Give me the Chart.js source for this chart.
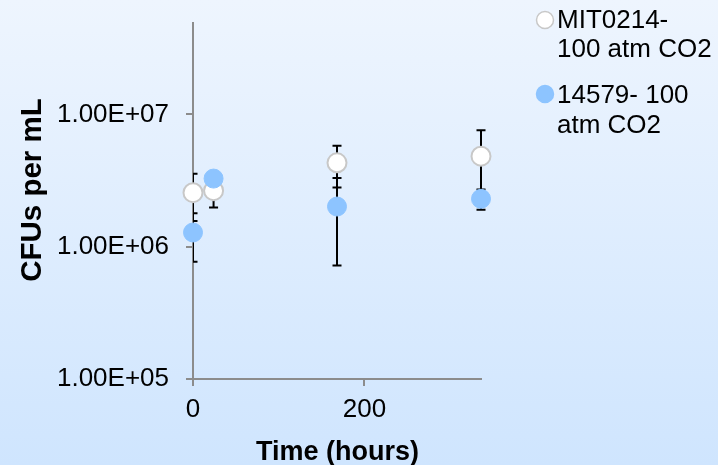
<!DOCTYPE html>
<html>
<head>
<meta charset="utf-8">
<script src="https://cdn.jsdelivr.net/npm/chart.js@4"></script>
<style>
html,body{margin:0;padding:0;}
body{width:718px;height:465px;background:linear-gradient(to bottom,#eef5fe 0%,#cfe5fe 100%);overflow:hidden;}
canvas{display:block;}
</style>
</head>
<body>
<canvas id="c" width="718" height="465"></canvas>
<script>
// ---- data ----
const times = [0, 24, 168, 336];
const mitValues = [2.56e6, 2.65e6, 4.3e6, 4.83e6];
const mitErrors = [1.0e6, 0.67e6, 1.5e6, 2.74e6];
const atccValues = [1.28e6, 3.27e6, 2.01e6, 2.3e6];
const atccErrors = [0.51e6, 0.2e6, 1.29e6, 0.4e6];
const xTicks = [0, 200];
const yTicks = [1e5, 1e6, 1e7];
const seriesNames = [["MIT0214-", "100 atm CO2"], ["14579- 100", "atm CO2"]];
const xTitle = "Time (hours)";
const yTitle = "CFUs per mL";

const FONT = '"Liberation Sans", Arial, sans-serif';
const AXIS = '#8c8c8c';

function fmtE(v){
  const e = Math.round(Math.log10(v));
  const m = v / Math.pow(10, e);
  return m.toFixed(2) + 'E' + (e >= 0 ? '+' : '-') + String(Math.abs(e)).padStart(2, '0');
}

const errorBars = {
  id: 'errorBars',
  beforeDatasetsDraw(chart){
    const {ctx, chartArea, scales:{x, y}} = chart;
    ctx.save();
    ctx.beginPath();
    ctx.rect(chartArea.left, 0, chart.width - chartArea.left, chart.height);
    ctx.clip();
    ctx.strokeStyle = '#000';
    ctx.lineWidth = 2;
    chart.data.datasets.forEach(ds => {
      ds.data.forEach((p, i) => {
        const e = ds.errors[i];
        const px = x.getPixelForValue(p.x);
        const yt = y.getPixelForValue(p.y + e);
        const yb = y.getPixelForValue(Math.max(p.y - e, 1));
        ctx.beginPath();
        ctx.moveTo(px, yt); ctx.lineTo(px, yb);
        ctx.moveTo(px - 4.5, yt); ctx.lineTo(px + 4.5, yt);
        ctx.moveTo(px - 4.5, yb); ctx.lineTo(px + 4.5, yb);
        ctx.stroke();
      });
    });
    ctx.restore();
  }
};

const texts = {
  id: 'texts',
  afterDraw(chart){
    const ctx = chart.ctx;
    ctx.save();
    ctx.fillStyle = '#000';
    // y title
    ctx.font = 'bold 29.5px ' + FONT;
    ctx.textAlign = 'center';
    ctx.textBaseline = 'middle';
    ctx.save();
    ctx.translate(33, 190);
    ctx.rotate(-Math.PI/2);
    ctx.fillText(yTitle, 0, 0);
    ctx.restore();
    // x title
    ctx.font = 'bold 27px ' + FONT;
    ctx.textBaseline = 'alphabetic';
    ctx.fillText(xTitle, 337.5, 460);
    // legend
    const ds = chart.data.datasets;
    const entries = [{cy: 20, base: [28, 57]}, {cy: 94, base: [103, 133]}];
    ctx.font = '26px ' + FONT;
    ctx.textAlign = 'left';
    entries.forEach((en, k) => {
      ctx.beginPath();
      ctx.arc(545, en.cy, 8.5, 0, Math.PI*2);
      ctx.fillStyle = ds[k].backgroundColor;
      ctx.fill();
      ctx.lineWidth = 1.5;
      ctx.strokeStyle = ds[k].borderColor;
      ctx.stroke();
      ctx.fillStyle = '#000';
      seriesNames[k].forEach((line, j) => ctx.fillText(line, 557, en.base[j]));
    });
    ctx.restore();
  }
};

new Chart(document.getElementById('c'), {
  type: 'scatter',
  data: {
    datasets: [
      {
        label: seriesNames[0].join(' '),
        data: times.map((t, i) => ({x: t, y: mitValues[i]})),
        errors: mitErrors,
        backgroundColor: '#ffffff',
        borderColor: '#c8c8c8',
        borderWidth: 2,
        pointRadius: 9.5,
        pointHoverRadius: 9.5,
        clip: false,
        order: 1
      },
      {
        label: seriesNames[1].join(' '),
        data: times.map((t, i) => ({x: t, y: atccValues[i]})),
        errors: atccErrors,
        backgroundColor: '#8dc4ff',
        borderColor: '#8dc4ff',
        borderWidth: 1,
        pointRadius: 9.5,
        pointHoverRadius: 9.5,
        clip: false,
        order: 0
      }
    ]
  },
  options: {
    responsive: false,
    animation: false,
    events: [],
    layout: {padding: {left: 0, top: 23, right: 237, bottom: 0}},
    plugins: {legend: {display: false}, tooltip: {enabled: false}},
    scales: {
      x: {
        type: 'linear',
        min: 0, max: 336,
        afterBuildTicks(s){ s.ticks = xTicks.map(v => ({value: v})); },
        afterFit(s){ s.height = 86; s.paddingLeft = 0; s.paddingRight = 0; },
        border: {color: AXIS, width: 2},
        grid: {drawOnChartArea: false, drawTicks: true, tickLength: 7, color: AXIS, lineWidth: 2},
        ticks: {color: '#000', font: {family: FONT, size: 26}, padding: 8, maxRotation: 0}
      },
      y: {
        type: 'logarithmic',
        min: 1e5, max: 4.9e7,
        afterBuildTicks(s){ s.ticks = yTicks.map(v => ({value: v})); },
        afterFit(s){ s.width = 193; s.paddingTop = 0; s.paddingBottom = 0; },
        border: {color: AXIS, width: 2},
        grid: {drawOnChartArea: false, drawTicks: true, tickLength: 7, color: AXIS, lineWidth: 2},
        ticks: {color: '#000', font: {family: FONT, size: 26}, padding: 17, callback: v => fmtE(v)}
      }
    }
  },
  plugins: [errorBars, texts]
});
</script>
</body>
</html>
